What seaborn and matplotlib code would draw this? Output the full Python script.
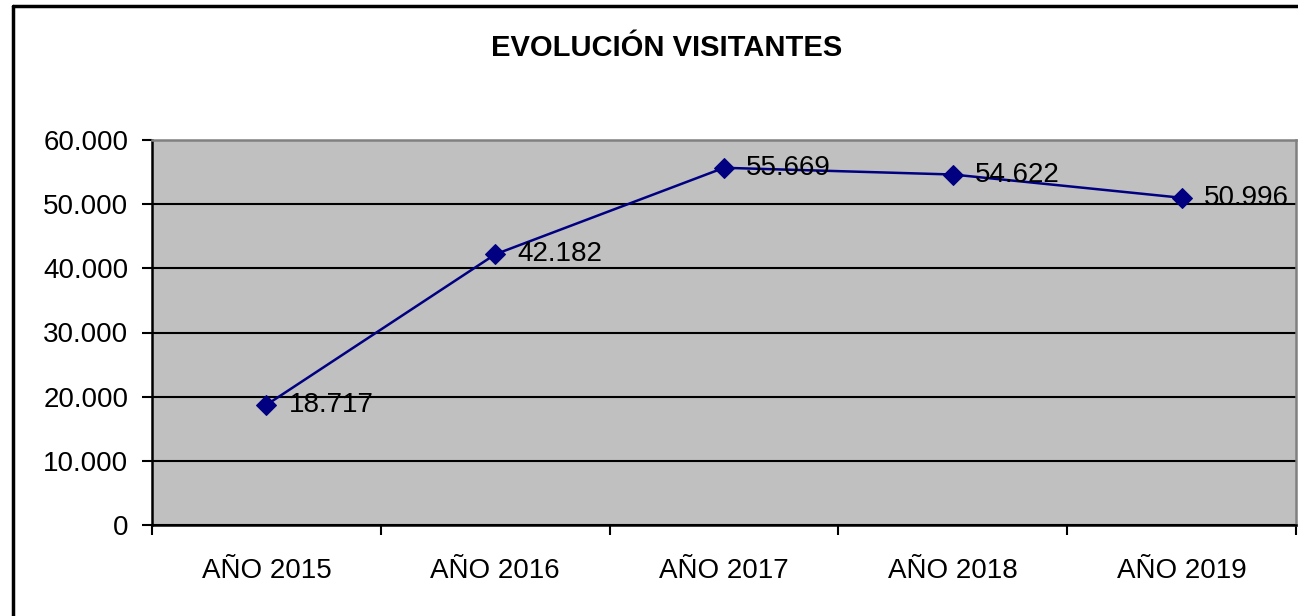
import matplotlib
matplotlib.use('Agg')
import matplotlib.pyplot as plt
from matplotlib.lines import Line2D
import seaborn as sns
import pandas as pd

years = ['AÑO 2015', 'AÑO 2016', 'AÑO 2017', 'AÑO 2018', 'AÑO 2019']
visitantes = [18717, 42182, 55669, 54622, 50996]
yticks = [0, 10000, 20000, 30000, 40000, 50000, 60000]

def miles(v):
    return f'{v:,.0f}'.replace(',', '.')

data = pd.DataFrame({'year': years, 'visitantes': visitantes})

sns.set_style('white')
plt.rcParams['font.family'] = ['Liberation Sans', 'DejaVu Sans']
plt.rcParams['text.color'] = 'black'
plt.rcParams['xtick.color'] = 'black'
plt.rcParams['ytick.color'] = 'black'
plt.rcParams['xtick.labelcolor'] = 'black'
plt.rcParams['ytick.labelcolor'] = 'black'

fig = plt.figure(figsize=(12.98, 6.16), dpi=100)
ax = fig.add_axes([152 / 1298, 1 - 525 / 616, 1144 / 1298, 385 / 616])
ax.set_facecolor('#C0C0C0')

sns.lineplot(x='year', y='visitantes', data=data, ax=ax,
             color='#000080', linewidth=1.8, marker='D', markersize=10,
             markeredgecolor='#000080', markerfacecolor='#000080', zorder=5)

for i, v in enumerate(visitantes):
    ax.annotate(miles(v), (i, v), xytext=(16, 0), textcoords='offset points',
                ha='left', va='center', fontsize=20, color='black', zorder=6,
                annotation_clip=False)

ax.set_xlim(-0.5, 4.5)
ax.set_ylim(0, 60000)
ax.set_yticks(yticks)
ax.set_yticklabels([miles(v) for v in yticks], fontsize=20)
ax.set_xticks([-0.5, 0.5, 1.5, 2.5, 3.5, 4.5])
ax.set_xticklabels([])
ax.set_xticks(range(len(years)), minor=True)
ax.set_xticklabels(years, minor=True, fontsize=20)
ax.tick_params(axis='x', which='major', direction='out', length=7, width=1.5,
               color='black', bottom=True)
ax.tick_params(axis='x', which='minor', length=0, pad=24)
ax.tick_params(axis='y', direction='out', length=7, width=1.5, color='black',
               left=True, pad=10)

ax.grid(axis='y', color='black', linewidth=1.5)
ax.get_ygridlines()[-1].set_visible(False)
ax.set_axisbelow(True)

for s in ['left', 'bottom']:
    ax.spines[s].set_color('black')
    ax.spines[s].set_linewidth(1.8)
for s in ['top', 'right']:
    ax.spines[s].set_color('#808080')
    ax.spines[s].set_linewidth(1.8)

ax.set_xlabel('')
ax.set_ylabel('')

fig.text(667 / 1298, 1 - 48 / 616, 'EVOLUCIÓN VISITANTES', ha='center',
         va='center', fontsize=21, fontweight='bold', color='black')

# chart frame (left and top edges)
fig.add_artist(Line2D([13 / 1298, 13 / 1298], [0, 1 - 6 / 616],
                      transform=fig.transFigure, color='black', linewidth=2.5))
fig.add_artist(Line2D([13 / 1298, 1], [1 - 6 / 616, 1 - 6 / 616],
                      transform=fig.transFigure, color='black', linewidth=2.5))

fig.savefig('out.png', dpi=100, facecolor='white')
